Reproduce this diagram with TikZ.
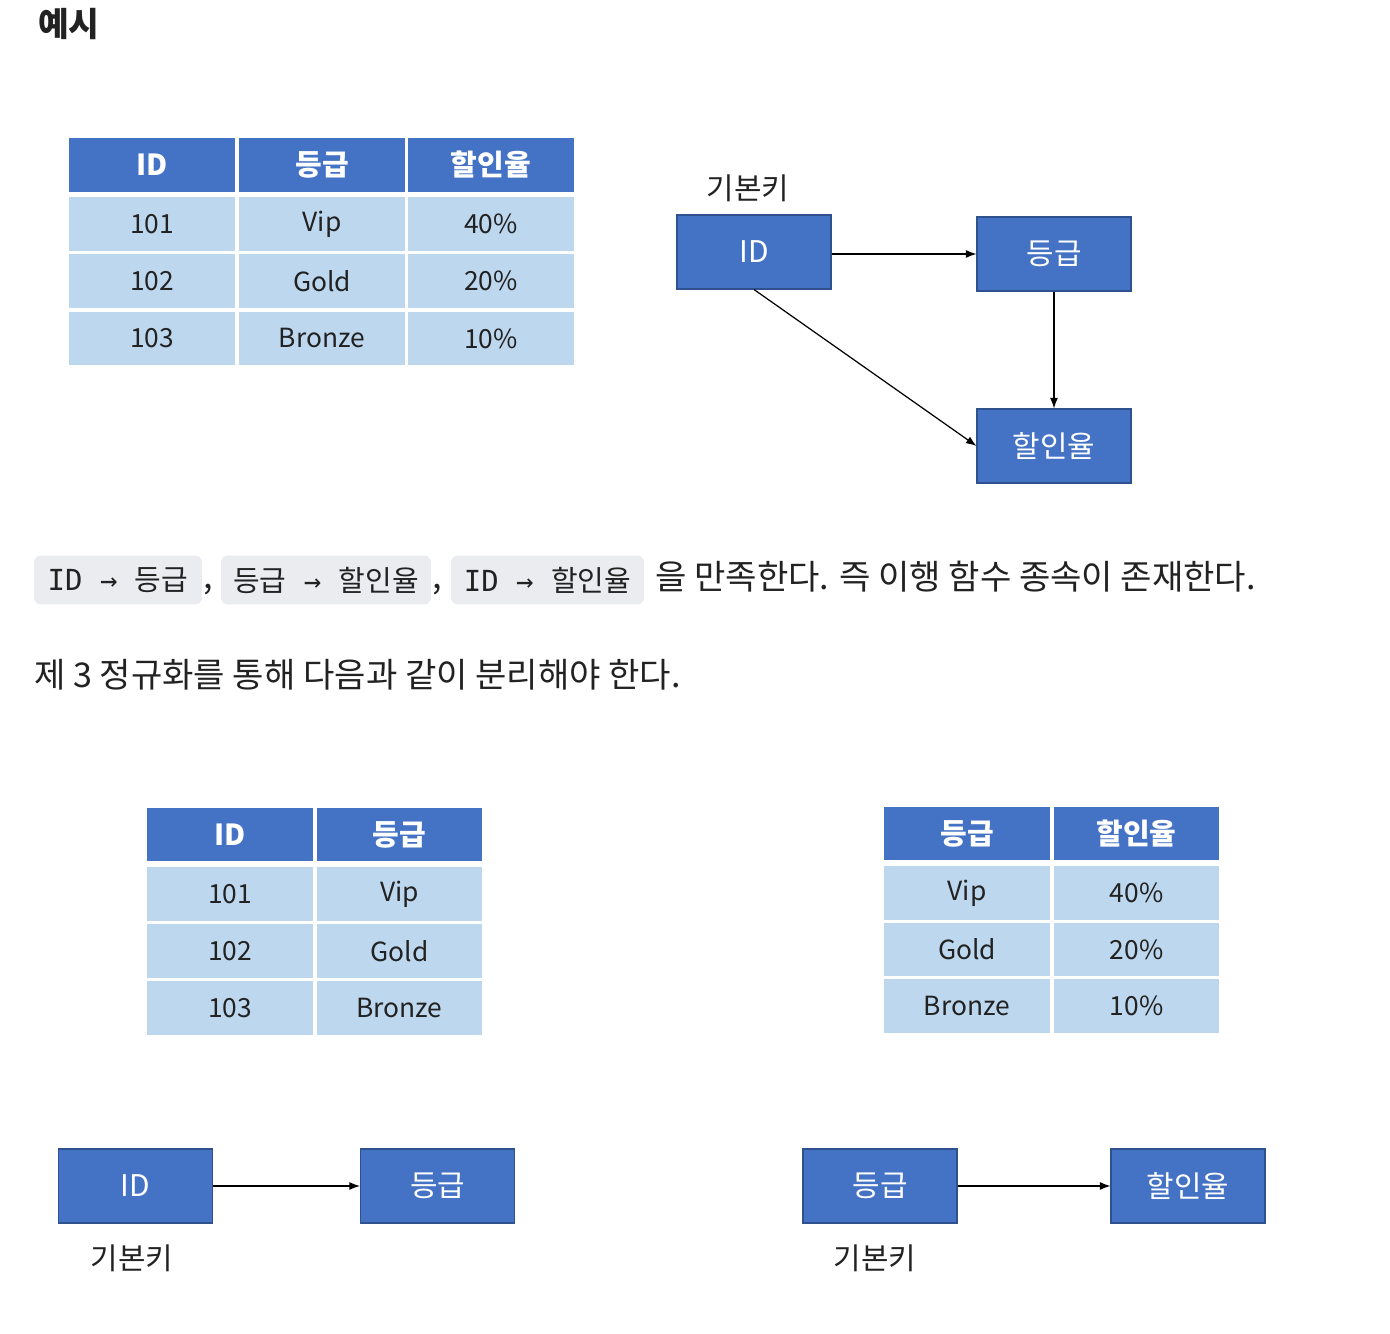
\documentclass[tikz,border=0pt]{standalone}
\usepackage{fontspec}
\setmainfont{Noto Sans CJK KR}
\newfontfamily\codefont{DejaVu Sans Mono}
\usetikzlibrary{arrows.meta}

\definecolor{hdrblue}{HTML}{4472C4}
\definecolor{rowblue}{HTML}{BDD7EE}
\definecolor{boxline}{HTML}{2F528F}
\definecolor{chipgray}{HTML}{EBECF0}
\definecolor{inktext}{HTML}{222222}

\tikzset{
  hdr/.style={fill=hdrblue, text=white, font=\fontsize{16.5}{19}\selectfont\bfseries,
    minimum width=3.34cm, minimum height=1.08cm, inner sep=0pt},
  cell/.style={fill=rowblue, text=inktext, font=\fontsize{15}{18}\selectfont,
    minimum width=3.34cm, minimum height=1.08cm, inner sep=0pt},
  ebox/.style={fill=hdrblue, draw=boxline, line width=0.6pt, text=white,
    font=\fontsize{17}{20}\selectfont, minimum width=3.08cm, minimum height=1.48cm, inner sep=0pt},
  keylbl/.style={text=inktext, font=\fontsize{17}{20}\selectfont},
  chip/.style={fill=chipgray, rounded corners=4pt, text=inktext,
    font=\fontsize{16.5}{19}\selectfont, minimum height=0.98cm, inner sep=0pt},
  body/.style={text=inktext, font=\fontsize{19.4}{23}\selectfont, anchor=base west, inner sep=0pt},
  fd/.style={-{Latex[length=6pt,width=4.5pt]}, line width=0.7pt},
}

\begin{document}
\begin{tikzpicture}[x=0.02cm, y=-0.02cm]
    \useasboundingbox (0,0) rectangle (1390,1334);
    \fill[white] (0,0) rectangle (1390,1334);

    % 제목
    \node[anchor=west, text=inktext, font=\fontsize{19}{22}\selectfont\bfseries] (ttl) at (32,24) {예시};

    % 원래 테이블
    \foreach \cx/\t [count=\c] in {152/ID, 322/등급, 491/할인율}
        \node[hdr] (t0h\c) at (\cx,165) {\t};
    \foreach \cy/\a/\b/\d [count=\r] in {224/101/Vip/40\%, 281/102/Gold/20\%, 338.5/103/Bronze/10\%} {
        \node[cell] (t0a\r) at (152,\cy) {\a};
        \node[cell] (t0b\r) at (322,\cy) {\b};
        \node[cell] (t0c\r) at (491,\cy) {\d};
    }

    % 함수 종속 다이어그램
    \node[keylbl] (k0) at (748,188) {기본키};
    \node[ebox] (id0) at (754,252) {ID};
    \node[ebox] (gr0) at (1054,254) {등급};
    \node[ebox] (dc0) at (1054,446) {할인율};
    \draw[fd] (id0.east |- gr0.west) -- (gr0.west);
    \draw[fd] (gr0.south) -- (dc0.north);
    \draw[fd] (id0.south) -- (dc0.west);

    % 설명 문장
    \node[chip, minimum width=3.36cm] (fd1) at (118,580) {{\codefont ID → }등급};
    \node[body] (cm1) at (203,589) {,};
    \node[chip, minimum width=4.2cm] (fd2) at (326,580) {등급{\codefont{} → }할인율};
    \node[body] (cm2) at (432,589) {,};
    \node[chip, minimum width=3.86cm] (fd3) at (547.5,580) {{\codefont ID → }할인율};
    \node[body] (s1) at (655,590) {을 만족한다. 즉 이행 함수 종속이 존재한다.};
    \node[body] (s2) at (34,687) {제 3 정규화를 통해 다음과 같이 분리해야 한다.};

    % 분리된 테이블 (ID, 등급)
    \foreach \cx/\t [count=\c] in {230/ID, 399.5/등급}
        \node[hdr, minimum width=3.32cm] (t1h\c) at (\cx,834.5) {\t};
    \foreach \cy/\a/\b [count=\r] in {894/101/Vip, 951/102/Gold, 1008/103/Bronze} {
        \node[cell, minimum width=3.32cm] (t1a\r) at (230,\cy) {\a};
        \node[cell, minimum width=3.32cm] (t1b\r) at (399.5,\cy) {\b};
    }

    % 분리된 테이블 (등급, 할인율)
    \foreach \cx/\t [count=\c] in {967/등급, 1136.5/할인율}
        \node[hdr, minimum width=3.32cm] (t2h\c) at (\cx,833.5) {\t};
    \foreach \cy/\a/\b [count=\r] in {893/Vip/40\%, 949.5/Gold/20\%, 1006/Bronze/10\%} {
        \node[cell, minimum width=3.32cm] (t2a\r) at (967,\cy) {\a};
        \node[cell, minimum width=3.32cm] (t2b\r) at (1136.5,\cy) {\b};
    }

    % 분리 후 다이어그램
    \node[ebox] (id1) at (135.5,1186) {ID};
    \node[ebox] (gr1) at (437.5,1186) {등급};
    \node[keylbl] (k1) at (132,1258) {기본키};
    \draw[fd] (id1) -- (gr1);

    \node[ebox] (gr2) at (880,1186) {등급};
    \node[ebox] (dc2) at (1188,1186) {할인율};
    \node[keylbl] (k2) at (875,1258) {기본키};
    \draw[fd] (gr2) -- (dc2);

\end{tikzpicture}
\end{document}
